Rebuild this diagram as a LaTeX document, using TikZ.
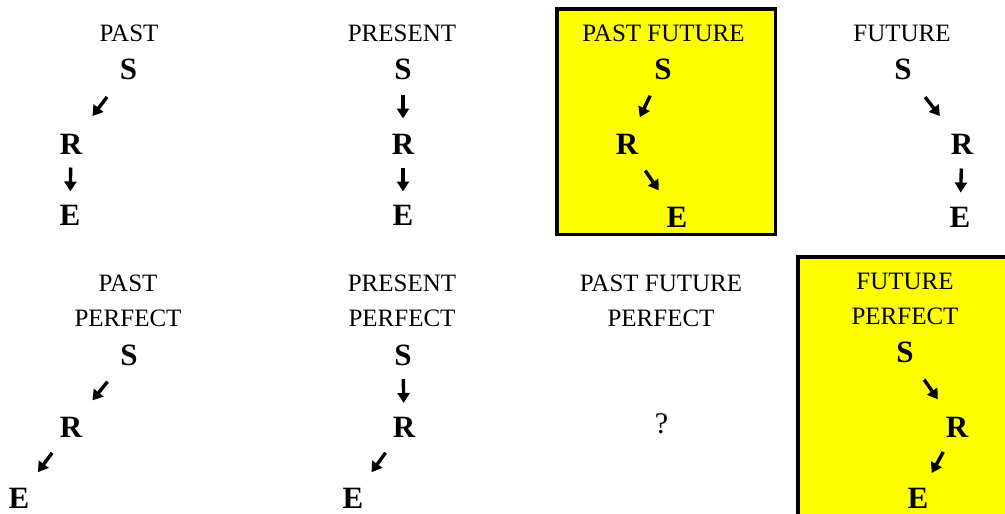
\documentclass[tikz,border=0pt]{standalone}
\usepackage{fontspec}
\setmainfont{Liberation Serif}
\usetikzlibrary{arrows.meta,calc}
\definecolor{tsyellow}{HTML}{FFFF00}
\tikzset{
  tense/.style ={font=\fontsize{25}{35}\selectfont, inner sep=0pt, align=center},
  point/.style ={font=\fontsize{31}{36}\selectfont\bfseries, inner sep=0pt},
  query/.style ={font=\fontsize{30}{36}\selectfont, inner sep=0pt},
  hilite/.style={fill=tsyellow, draw=black, line width=3.5pt},
  tarr/.style  ={-{Triangle[length=10pt,width=12pt]}, line width=3.4pt},
}
\newcommand{\tarrow}[2]{%
  \draw[tarr] ($(#1)!.5!(#2)!-12pt!(#2)$) -- ($(#1)!.5!(#2)!12pt!(#2)$);}

\begin{document}
\begin{tikzpicture}[x=1pt,y=-1pt]
  \useasboundingbox (0,0) rectangle (1005,514);
  \clip (0,0) rectangle (1005,514);
  % highlighted tenses
  \path[hilite] (556.75,8.75) rectangle (775.25,234.25);
  \path[hilite] (797.75,256.75) rectangle (1020,530);
  % simple tenses
  \node[tense] (past-T) at (129,33.5) {PAST};
  \node[point] (past-S) at (128.5,69) {S};
  \node[point] (past-R) at (71,144) {R};
  \node[point] (past-E) at (70,215) {E};
  \node[tense] (present-T) at (402,33.5) {PRESENT};
  \node[point] (present-S) at (403,69) {S};
  \node[point] (present-R) at (403,144) {R};
  \node[point] (present-E) at (403,215) {E};
  \node[tense] (pastfut-T) at (663.5,33.5) {PAST FUTURE};
  \node[point] (pastfut-S) at (663,69) {S};
  \node[point] (pastfut-R) at (627,144) {R};
  \node[point] (pastfut-E) at (677,217) {E};
  \node[tense] (future-T) at (902,33.5) {FUTURE};
  \node[point] (future-S) at (903,69) {S};
  \node[point] (future-R) at (962,144) {R};
  \node[point] (future-E) at (960,217) {E};
  % perfect tenses
  \node[tense] (pastperf-T) at (128,300.5) {PAST\\PERFECT};
  \node[point] (pastperf-S) at (129,355) {S};
  \node[point] (pastperf-R) at (71,427) {R};
  \node[point] (pastperf-E) at (19,498) {E};
  \node[tense] (presperf-T) at (402,300.5) {PRESENT\\PERFECT};
  \node[point] (presperf-S) at (403,355) {S};
  \node[point] (presperf-R) at (404,427) {R};
  \node[point] (presperf-E) at (353,498) {E};
  \node[tense] (pfperf-T) at (661,300.5) {PAST FUTURE\\PERFECT};
  \node[query] (pfperf-Q) at (661.5,424) {?};
  \node[tense] (futperf-T) at (905,298.5) {FUTURE\\PERFECT};
  \node[point] (futperf-S) at (905,352) {S};
  \node[point] (futperf-R) at (957,427) {R};
  \node[point] (futperf-E) at (918,498) {E};
  % S -> R -> E
  \foreach \tn in {past,present,pastfut,future,pastperf,presperf,futperf}{
    \tarrow{\tn-S}{\tn-R}
    \tarrow{\tn-R}{\tn-E}}
\end{tikzpicture}
\end{document}
